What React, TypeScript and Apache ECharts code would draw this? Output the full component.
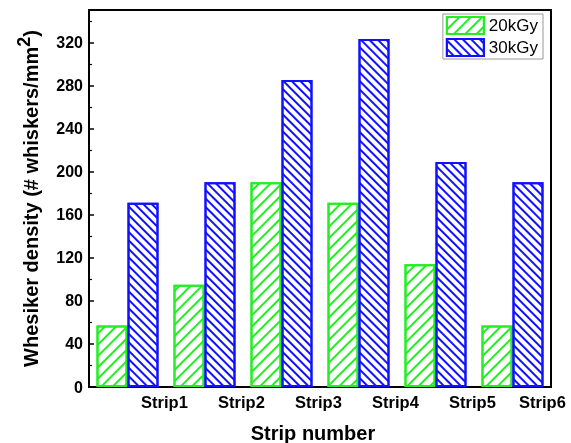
import React, { useEffect, useRef } from "react";
import * as echarts from "echarts";

const categories = ["Strip1", "Strip2", "Strip3", "Strip4", "Strip5", "Strip6"];
const seriesNames = ["20kGy", "30kGy"];
const values20 = [57, 95, 190, 171, 114, 57];
const values30 = [171, 190, 285, 323, 209, 190];
const yMin = 0;
const yMax = 350;
const yInterval = 40;

const FONT = "Liberation Sans, Arial, sans-serif";

export default function App() {
  const ref = useRef<HTMLDivElement>(null);
  useEffect(() => {
    if (!ref.current) return;
    const chart = echarts.init(ref.current, null, { renderer: "svg" });
    const green = "#22ee22";
    const blue = "#1111ff";
    const mkSeries = (name: string, data: number[], color: string, rot: number, gap: number) => ({
      name,
      type: "bar",
      data,
      barWidth: 31,
      barGap: "0%",
      itemStyle: {
        color: "#ffffff",
        borderColor: color,
        borderWidth: 2,
        decal: {
          symbol: "rect",
          symbolSize: 1,
          color,
          backgroundColor: "#ffffff",
          dashArrayX: [1, 0],
          dashArrayY: [1.6, gap],
          rotation: rot,
        },
      },
    });
    const labelStyle = { color: "#000", fontWeight: "bold", fontSize: 16.5, fontFamily: FONT };
    chart.setOption({
      animation: false,
      textStyle: { fontFamily: FONT },
      grid: {
        left: 89,
        right: 20,
        top: 10,
        bottom: 56,
        show: true,
        containLabel: false,
        outerBoundsMode: "none",
        borderColor: "#000",
        borderWidth: 2,
        backgroundColor: "transparent",
      },
      legend: {
        orient: "vertical",
        right: 28,
        top: 14,
        icon: "rect",
        itemWidth: 37,
        itemHeight: 17,
        itemGap: 3,
        padding: [2, 5, 2, 3],
        borderColor: "#999",
        borderWidth: 1,
        textStyle: { fontFamily: FONT, fontSize: 17, color: "#000" },
        data: seriesNames,
      },
      xAxis: {
        type: "category",
        data: categories,
        boundaryGap: true,
        axisLine: { lineStyle: { color: "#000", width: 2 } },
        axisTick: { alignWithLabel: true, interval: 0, length: 5, lineStyle: { color: "#000", width: 2 } },
        axisLabel: {
          ...labelStyle,
          interval: 0,
          hideOverlap: false,
          margin: 6,
          padding: [0, 0, 0, 74],
          formatter: (v: string, i: number) =>
            i === categories.length - 1 ? `{last|${v}}` : `{n|${v}}`,
          rich: {
            n: { ...labelStyle },
            last: { ...labelStyle, padding: [0, 14, 0, 0] },
          },
        },
        name: "Strip number",
        nameLocation: "middle",
        nameGap: 36,
        nameTextStyle: { color: "#000", fontWeight: "bold", fontSize: 20, fontFamily: FONT, padding: [0, 14, 0, 0] },
      },
      yAxis: {
        type: "value",
        min: yMin,
        max: yMax,
        interval: yInterval,
        splitLine: { show: false },
        axisLine: { show: true, lineStyle: { color: "#000", width: 2 } },
        axisTick: { show: true, inside: true, length: 5, lineStyle: { color: "#000", width: 1.5 } },
        minorTick: { show: true, splitNumber: 2, length: 3, lineStyle: { color: "#000", width: 1.2 } },
        axisLabel: {
          color: "#000",
          fontWeight: "bold",
          fontSize: 16,
          fontFamily: FONT,
          margin: 6,
          showMaxLabel: false,
        },
        name: "{a|Whesiker density (# whiskers/mm}{s|2}{a|)}",
        nameLocation: "middle",
        nameGap: 47,
        nameTextStyle: {
          color: "#000",
          rich: {
            a: { fontWeight: "bold", fontSize: 20, fontFamily: FONT, color: "#000", lineHeight: 26, verticalAlign: "bottom" },
            s: { fontWeight: "bold", fontSize: 18, fontFamily: FONT, color: "#000", lineHeight: 26, verticalAlign: "top", padding: [0, 0, 12, 0] },
          },
        },
      },
      series: [
        mkSeries(seriesNames[0], values20, green, -Math.PI / 4, 6),
        mkSeries(seriesNames[1], values30, blue, Math.PI / 4, 4),
      ],
    });
    return () => chart.dispose();
  }, []);
  return <div ref={ref} style={{ position: "fixed", left: 0, top: 0, width: 571, height: 443 }} />;
}
